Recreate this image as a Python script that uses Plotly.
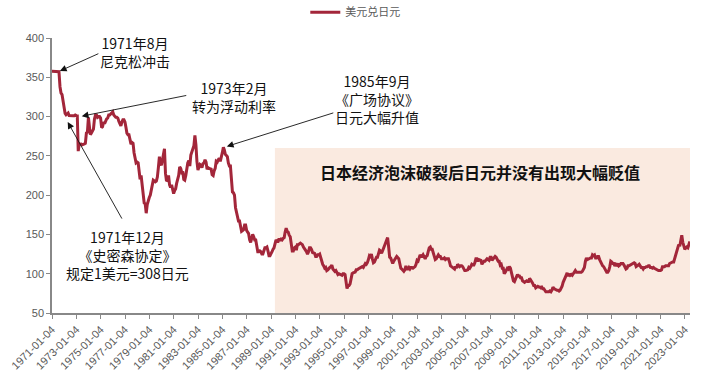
import pandas as pd
import plotly.graph_objects as go

# Monthly USD/JPY (approx.), Jan 1971 .. Jun 2023
y1971 = [357.6, 357.5, 357.5, 357.5, 357.4, 357.4, 357.4, 357.2, 338.0, 330.0, 328.0, 318.0]
y1972 = [308.0, 304.0, 302.2, 303.6, 304.6, 301.3, 301.0, 301.0, 301.0, 301.0, 301.0, 302.0]
y1973 = [301.2, 301.0, 256.0, 265.4, 264.7, 265.0, 264.0, 265.3, 265.3, 266.0, 279.0, 280.0]
y1974 = [299.0, 287.0, 277.0, 279.0, 281.0, 284.0, 297.0, 302.0, 302.0, 299.0, 300.0, 300.0]
y1975 = [298.0, 286.0, 287.0, 293.0, 291.0, 295.0, 297.0, 298.0, 302.0, 302.0, 303.0, 305.0]
y1976 = [306.0, 302.0, 300.0, 299.0, 299.0, 298.0, 294.0, 290.0, 288.0, 293.0, 296.0, 296.0]
y1977 = [293.0, 286.0, 279.0, 277.0, 277.0, 271.0, 265.0, 267.0, 266.0, 254.0, 244.0, 241.0]
y1978 = [242.0, 241.0, 231.0, 220.0, 225.0, 210.0, 201.0, 190.0, 189.0, 177.0, 188.0, 195.0]
y1979 = [197.0, 200.0, 206.0, 217.0, 219.0, 218.0, 217.0, 218.0, 223.0, 235.0, 249.0, 240.0]
y1980 = [238.0, 245.0, 253.0, 259.0, 228.0, 218.0, 219.0, 225.0, 213.0, 210.0, 213.0, 206.0]
y1981 = [202.0, 206.0, 208.0, 215.0, 221.0, 225.0, 236.0, 234.0, 229.0, 230.0, 220.0, 219.0]
y1982 = [225.0, 235.0, 241.0, 244.0, 237.0, 251.0, 256.0, 258.0, 263.0, 276.0, 264.0, 243.0]
y1983 = [232.0, 236.0, 239.0, 238.0, 235.0, 240.0, 241.0, 245.0, 242.0, 233.0, 235.0, 234.0]
y1984 = [233.0, 233.0, 226.0, 225.0, 231.0, 234.0, 243.0, 242.0, 245.0, 247.0, 243.0, 247.0]
y1985 = [254.0, 261.0, 258.0, 252.0, 251.0, 249.0, 241.0, 237.0, 237.0, 215.0, 204.0, 203.0]
y1986 = [200.0, 184.0, 179.0, 175.0, 167.0, 167.0, 158.0, 154.0, 155.0, 156.0, 162.0, 162.0]
y1987 = [155.0, 153.0, 151.0, 143.0, 140.0, 145.0, 150.0, 147.0, 143.0, 143.0, 135.0, 128.0]
y1988 = [128.0, 129.0, 128.0, 125.0, 125.0, 128.0, 133.0, 133.0, 134.0, 129.0, 123.0, 123.0]
y1989 = [127.0, 128.0, 131.0, 133.0, 138.0, 143.0, 141.0, 141.0, 145.0, 142.0, 144.0, 143.0]
y1990 = [145.0, 146.0, 153.0, 158.0, 154.0, 153.0, 149.0, 147.0, 138.0, 129.0, 129.0, 133.0]
y1991 = [134.0, 130.0, 137.0, 137.0, 138.0, 139.0, 138.0, 137.0, 134.0, 131.0, 130.0, 128.0]
y1992 = [125.0, 128.0, 133.0, 133.0, 131.0, 127.0, 126.0, 126.0, 122.0, 122.0, 124.0, 124.0]
y1993 = [125.0, 120.0, 117.0, 112.0, 110.0, 107.0, 108.0, 104.0, 105.0, 107.0, 108.0, 109.0]
y1994 = [111.0, 106.0, 105.0, 103.0, 104.0, 102.0, 99.0, 100.0, 99.0, 98.0, 98.0, 100.0]
y1995 = [100.0, 99.0, 90.0, 81.0, 85.0, 85.0, 87.0, 94.0, 100.0, 101.0, 102.0, 102.0]
y1996 = [105.0, 105.0, 106.0, 107.0, 107.0, 109.0, 109.0, 108.0, 110.0, 113.0, 112.0, 114.0]
y1997 = [118.0, 123.0, 122.0, 125.0, 119.0, 114.0, 115.0, 118.0, 121.0, 121.0, 125.0, 130.0]
y1998 = [129.0, 126.0, 129.0, 132.0, 135.0, 140.0, 141.0, 146.0, 134.0, 121.0, 120.0, 117.0]
y1999 = [113.0, 116.0, 119.0, 120.0, 122.0, 121.0, 119.0, 113.0, 107.0, 106.0, 105.0, 103.0]
y2000 = [105.0, 110.0, 106.0, 106.0, 108.0, 106.0, 108.0, 108.0, 107.0, 108.0, 109.0, 112.0]
y2001 = [117.0, 116.0, 121.0, 124.0, 122.0, 122.0, 124.0, 121.0, 119.0, 122.0, 123.0, 128.0]
y2002 = [133.0, 134.0, 131.0, 131.0, 127.0, 123.0, 118.0, 119.0, 121.0, 124.0, 122.0, 122.0]
y2003 = [119.0, 119.0, 119.0, 120.0, 118.0, 119.0, 119.0, 119.0, 115.0, 110.0, 109.0, 108.0]
y2004 = [107.0, 106.0, 109.0, 107.0, 112.0, 110.0, 109.0, 110.0, 110.0, 109.0, 105.0, 104.0]
y2005 = [104.0, 105.0, 105.0, 108.0, 107.0, 109.0, 112.0, 111.0, 111.0, 114.0, 119.0, 119.0]
y2006 = [116.0, 118.0, 117.0, 117.0, 112.0, 115.0, 116.0, 116.0, 118.0, 119.0, 118.0, 117.0]
y2007 = [121.0, 121.0, 117.0, 119.0, 121.0, 122.0, 121.0, 117.0, 116.0, 116.0, 111.0, 112.0]
y2008 = [107.0, 107.0, 100.0, 102.0, 104.0, 107.0, 106.0, 109.0, 107.0, 100.0, 97.0, 91.0]
y2009 = [90.0, 93.0, 98.0, 99.0, 97.0, 97.0, 95.0, 95.0, 91.0, 90.0, 89.0, 90.0]
y2010 = [91.0, 90.0, 90.0, 94.0, 92.0, 91.0, 88.0, 85.0, 85.0, 82.0, 83.0, 84.0]
y2011 = [83.0, 83.0, 82.0, 83.0, 81.0, 81.0, 79.0, 77.0, 77.0, 77.0, 77.0, 78.0]
y2012 = [77.0, 79.0, 83.0, 81.0, 80.0, 80.0, 79.0, 79.0, 78.0, 79.0, 81.0, 84.0]
y2013 = [89.0, 93.0, 95.0, 98.0, 101.0, 97.0, 100.0, 98.0, 99.0, 98.0, 100.0, 103.0]
y2014 = [104.0, 102.0, 102.0, 102.0, 102.0, 102.0, 102.0, 103.0, 107.0, 108.0, 116.0, 120.0]
y2015 = [118.0, 119.0, 120.0, 120.0, 120.0, 124.0, 123.0, 124.0, 120.0, 120.0, 122.0, 122.0]
y2016 = [118.0, 115.0, 113.0, 110.0, 109.0, 106.0, 104.0, 102.0, 102.0, 104.0, 109.0, 116.0]
y2017 = [115.0, 113.0, 113.0, 110.0, 112.0, 111.0, 113.0, 110.0, 111.0, 113.0, 113.0, 113.0]
y2018 = [111.0, 108.0, 106.0, 107.0, 110.0, 110.0, 111.0, 111.0, 112.0, 113.0, 114.0, 113.0]
y2019 = [109.0, 110.0, 111.0, 112.0, 110.0, 108.0, 108.0, 106.0, 108.0, 108.0, 109.0, 109.0]
y2020 = [110.0, 110.0, 108.0, 108.0, 107.0, 108.0, 107.0, 106.0, 106.0, 105.0, 104.0, 104.0]
y2021 = [104.0, 105.0, 109.0, 109.0, 109.0, 110.0, 110.0, 110.0, 110.0, 113.0, 114.0, 114.0]
y2022 = [115.0, 115.0, 119.0, 126.0, 129.0, 134.0, 137.0, 135.0, 143.0, 149.0, 140.0, 135.0]
y2023 = [131.0, 133.0, 134.0, 133.0, 137.0, 141.0]

years = [y1971, y1972, y1973, y1974, y1975, y1976, y1977, y1978, y1979, y1980,
         y1981, y1982, y1983, y1984, y1985, y1986, y1987, y1988, y1989, y1990,
         y1991, y1992, y1993, y1994, y1995, y1996, y1997, y1998, y1999, y2000,
         y2001, y2002, y2003, y2004, y2005, y2006, y2007, y2008, y2009, y2010,
         y2011, y2012, y2013, y2014, y2015, y2016, y2017, y2018, y2019, y2020,
         y2021, y2022, y2023]
values = [v for yr in years for v in yr]
dates = pd.date_range("1971-01-01", periods=len(values), freq="MS")

tick_labels = [f"{y}-01-04" for y in range(1971, 2024, 2)]
series_name = "美元兑日元"

fig = go.Figure()
fig.add_trace(go.Scatter(
    x=dates, y=values, mode="lines", name=series_name,
    line=dict(color="#A3263A", width=3),
))

# shaded period
fig.add_shape(type="rect", xref="x", yref="y", x0="1989-04-27", x1="2023-06-05",
              y0=50, y1=260, fillcolor="#FAEAE0", line=dict(width=0), layer="below")

cjk = "Noto Sans CJK SC"
ann = []
def text(xp, yp, s, bold=False):
    ann.append(dict(xref="paper", yref="paper", x=xp, y=yp, text=s, showarrow=False,
                    font=dict(family=cjk, size=16 if bold else 14, color="#111",
                              weight="bold" if bold else "normal"),
                    xanchor="center", yanchor="middle", align="center"))
text(0.130, 0.949, "1971年8月<br>尼克松冲击")
text(0.285, 0.787, "1973年2月<br>转为浮动利率")
text(0.509, 0.778, "1985年9月<br>《广场协议》<br>日元大幅升值")
text(0.1176, 0.211, "1971年12月<br>《史密森协定》<br>规定1美元=308日元")
text(0.671, 0.513, "日本经济泡沫破裂后日元并没有出现大幅贬值", bold=True)

def arrow(xd, yd, ax, ay):
    ann.append(dict(xref="x", yref="y", x=xd, y=yd, text="", showarrow=True,
                    ax=ax, ay=ay, arrowhead=2, arrowsize=1.5, arrowwidth=0.9,
                    arrowcolor="#111"))
arrow("1971-08-28", 358, 40, -18)
arrow("1973-06-15", 300.5, 106, -21)
arrow("1985-05-15", 262, 108, -34)
arrow("1972-04-20", 293, 55, 98)

fig.update_layout(
    width=702, height=387,
    margin=dict(l=52, r=12, t=38, b=74, autoexpand=False),
    paper_bgcolor="white", plot_bgcolor="white",
    showlegend=True,
    legend=dict(orientation="h", x=0.397, y=1.094, xanchor="left", yanchor="middle",
                font=dict(family="Noto Sans CJK SC", size=11, color="#595959"),
                bgcolor="rgba(0,0,0,0)"),
    annotations=ann,
)
fig.update_xaxes(
    type="date", range=["1971-01-04", "2023-06-05"], automargin=False,
    tickvals=[pd.Timestamp(t) for t in tick_labels], ticktext=tick_labels,
    tickangle=-45, ticks="outside", ticklen=4, tickcolor="#888",
    showline=True, linecolor="#888", linewidth=1.5, showgrid=False, zeroline=False,
    tickfont=dict(family="Liberation Sans", size=11, color="#595959"),
)
fig.update_yaxes(
    range=[50, 400], tickvals=[50, 100, 150, 200, 250, 300, 350, 400], automargin=False,
    ticks="outside", ticklen=4, tickcolor="#888",
    showline=True, linecolor="#888", linewidth=1.5, showgrid=False, zeroline=False,
    tickfont=dict(family="Liberation Sans", size=11, color="#595959"),
)
fig.write_html("out.html", config={"displayModeBar": False},
               post_script="document.body.style.margin='0';")
